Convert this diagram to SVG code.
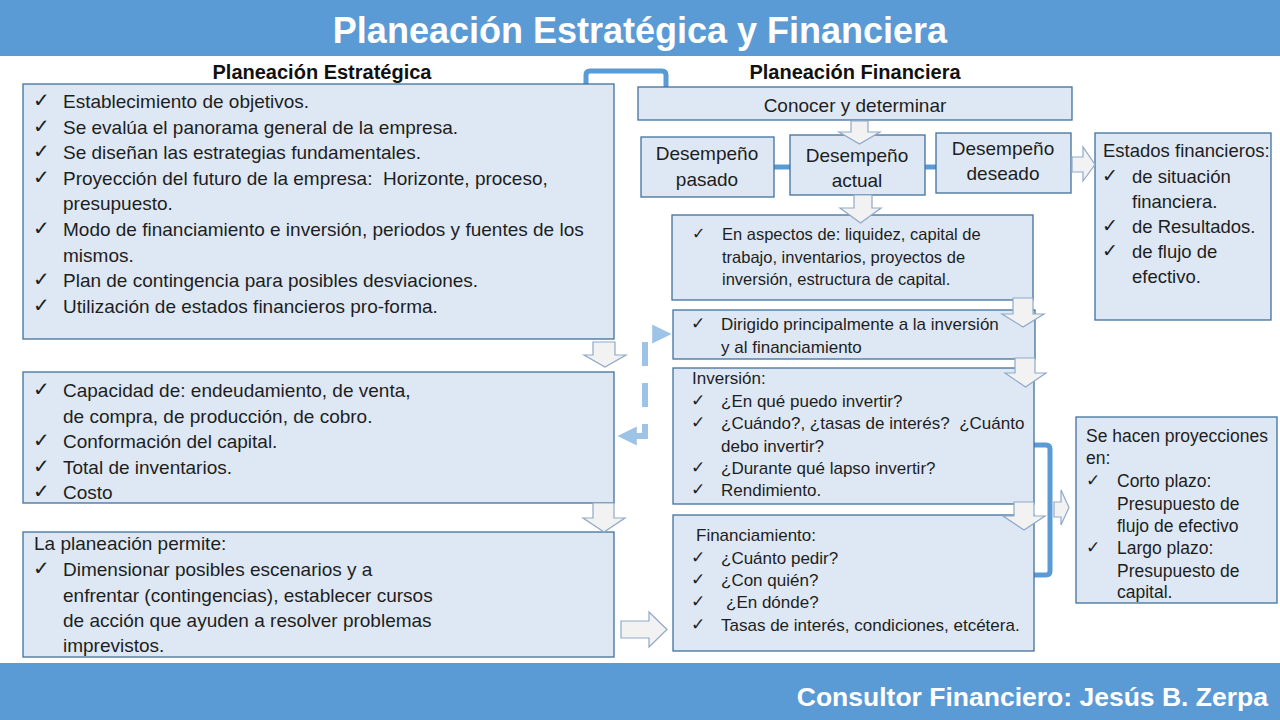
<svg xmlns="http://www.w3.org/2000/svg" width="1280" height="720" viewBox="0 0 1280 720">
<style>
.bar{fill:#5B9BD5}
.box{fill:#DDE8F4;stroke:#41719C;stroke-width:1.3}
.t{font-family:"Liberation Sans",Arial,sans-serif;fill:#1E1E1E}
.l{font-size:19px}
.r{font-size:17px}
.ck{font-family:"DejaVu Sans",sans-serif;fill:#1E1E1E}
.h{font-family:"Liberation Sans",Arial,sans-serif;font-weight:bold;font-size:20px;fill:#111}
.ttl{font-family:"Liberation Sans",Arial,sans-serif;font-weight:bold;fill:#fff}
.ba{fill:#F2F2F2;stroke:#8FA9C9;stroke-width:1.2}
.bl{fill:none;stroke:#5B9BD5;stroke-width:5;stroke-linejoin:round}
.dash{fill:none;stroke:#9DC3E6;stroke-width:6;stroke-dasharray:24 17}
.c{text-anchor:middle}
</style>
<defs>
<marker id="dh" viewBox="0 0 10 10" refX="2" refY="5" markerWidth="3.2" markerHeight="3.2" orient="auto-start-reverse" markerUnits="strokeWidth">
<path d="M0 0 L10 5 L0 10 Z" fill="#9DC3E6"/>
</marker>
</defs>

<g id="header">
<rect class="bar" x="0" y="0" width="1280" height="56"/>
<text class="ttl c" x="640" y="43" font-size="36">Planeación Estratégica y Financiera</text>
</g>
<g id="footer">
<rect class="bar" x="0" y="663" width="1280" height="57"/>
<text class="ttl" x="1268" y="706" font-size="26.5" text-anchor="end">Consultor Financiero: Jesús B. Zerpa</text>
</g>

<text class="h c" x="322" y="79">Planeación Estratégica</text>
<text class="h c" x="855" y="79">Planeación Financiera</text>

<g id="connectors">
<path class="bl" d="M586 85 V75 Q586 71 590 71 H662 Q666 71 666 75 V88"/>
<path class="bl" d="M774 167 H790" stroke-width="4"/>
<path class="bl" d="M925 167 H936" stroke-width="4"/>
<path class="bl" d="M1034 445 H1046 Q1050 445 1050 449 V571 Q1050 575 1046 575 H1034"/>
<path class="dash" d="M633 436 H645 V334 H656" marker-start="url(#dh)" marker-end="url(#dh)"/>
</g>

<g id="estrategica">
<rect class="box" x="23" y="84" width="591" height="255"/>
<g class="ck" font-size="20">
<text x="33" y="107">✓</text><text x="33" y="133">✓</text><text x="33" y="158">✓</text><text x="33" y="184">✓</text><text x="33" y="235">✓</text><text x="33" y="286">✓</text><text x="33" y="312">✓</text>
</g>
<g class="t l">
<text x="63" y="108">Establecimiento de objetivos.</text>
<text x="63" y="134">Se evalúa el panorama general de la empresa.</text>
<text x="63" y="159">Se diseñan las estrategias fundamentales.</text>
<text x="63" y="185" xml:space="preserve">Proyección del futuro de la empresa:  Horizonte, proceso,</text>
<text x="63" y="210">presupuesto.</text>
<text x="63" y="236">Modo de financiamiento e inversión, periodos y fuentes de los</text>
<text x="63" y="262">mismos.</text>
<text x="63" y="287">Plan de contingencia para posibles desviaciones.</text>
<text x="63" y="313">Utilización de estados financieros pro-forma.</text>
</g>
</g>

<g id="capacidad">
<rect class="box" x="23" y="372" width="591" height="131"/>
<g class="ck" font-size="20">
<text x="33" y="396">✓</text><text x="33" y="447">✓</text><text x="33" y="473">✓</text><text x="33" y="498">✓</text>
</g>
<g class="t l">
<text x="63" y="397">Capacidad de: endeudamiento, de venta,</text>
<text x="63" y="423">de compra, de producción, de cobro.</text>
<text x="63" y="448">Conformación del capital.</text>
<text x="63" y="474">Total de inventarios.</text>
<text x="63" y="499">Costo</text>
</g>
</g>

<g id="permite">
<rect class="box" x="23" y="532" width="591" height="125"/>
<text class="ck" x="33" y="575" font-size="20">✓</text>
<g class="t l">
<text x="34" y="550">La planeación permite:</text>
<text x="63" y="576">Dimensionar posibles escenarios y a</text>
<text x="63" y="602">enfrentar (contingencias), establecer cursos</text>
<text x="63" y="627">de acción que ayuden a resolver problemas</text>
<text x="63" y="652">imprevistos.</text>
</g>
</g>

<g id="conocer">
<rect class="box" x="638" y="87" width="434" height="33"/>
<text class="t l c" x="855" y="112">Conocer y determinar</text>
</g>
<g id="pasado">
<rect class="box" x="641" y="137" width="133" height="60"/>
<text class="t l c" x="707" y="160">Desempeño</text>
<text class="t l c" x="707" y="186">pasado</text>
</g>
<g id="actual">
<rect class="box" x="790" y="135" width="135" height="60"/>
<text class="t l c" x="857" y="162">Desempeño</text>
<text class="t l c" x="857" y="187">actual</text>
</g>
<g id="deseado">
<rect class="box" x="936" y="133" width="135" height="60"/>
<text class="t l c" x="1003" y="155">Desempeño</text>
<text class="t l c" x="1003" y="180">deseado</text>
</g>

<g id="estados">
<rect class="box" x="1095" y="133" width="176" height="187"/>
<g class="ck" font-size="19">
<text x="1102" y="182">✓</text><text x="1102" y="232">✓</text><text x="1102" y="257">✓</text>
</g>
<g class="t" font-size="18.5">
<text x="1103" y="157">Estados financieros:</text>
<text x="1132" y="183">de situación</text>
<text x="1132" y="208">financiera.</text>
<text x="1132" y="233">de Resultados.</text>
<text x="1132" y="258">de flujo de</text>
<text x="1132" y="283">efectivo.</text>
</g>
</g>

<g id="aspectos">
<rect class="box" x="672" y="215" width="361" height="85"/>
<text class="ck" x="692" y="239" font-size="16">✓</text>
<g class="t" font-size="16.5">
<text x="722" y="240">En aspectos de: liquidez, capital de</text>
<text x="722" y="263">trabajo, inventarios, proyectos de</text>
<text x="722" y="285">inversión, estructura de capital.</text>
</g>
</g>

<g id="dirigido">
<rect class="box" x="673" y="310" width="362" height="49"/>
<text class="ck" x="691" y="329" font-size="17">✓</text>
<g class="t r">
<text x="721" y="330">Dirigido principalmente a la inversión</text>
<text x="721" y="353">y al financiamiento</text>
</g>
</g>

<g id="inversion">
<rect class="box" x="673" y="368" width="361" height="136"/>
<g class="ck" font-size="17">
<text x="691" y="406">✓</text><text x="691" y="428">✓</text><text x="691" y="473">✓</text><text x="691" y="495">✓</text>
</g>
<g class="t r">
<text x="692" y="384">Inversión:</text>
<text x="721" y="407">¿En qué puedo invertir?</text>
<text x="721" y="429" xml:space="preserve">¿Cuándo?, ¿tasas de interés?  ¿Cuánto</text>
<text x="721" y="452">debo invertir?</text>
<text x="721" y="474">¿Durante qué lapso invertir?</text>
<text x="721" y="496">Rendimiento.</text>
</g>
</g>

<g id="financiamiento">
<rect class="box" x="673" y="515" width="361" height="136"/>
<g class="ck" font-size="17">
<text x="691" y="563">✓</text><text x="691" y="585">✓</text><text x="691" y="607">✓</text><text x="691" y="630">✓</text>
</g>
<g class="t r">
<text x="696" y="541">Financiamiento:</text>
<text x="721" y="564">¿Cuánto pedir?</text>
<text x="721" y="586">¿Con quién?</text>
<text x="726" y="608">¿En dónde?</text>
<text x="721" y="631">Tasas de interés, condiciones, etcétera.</text>
</g>
</g>

<g id="proyecciones">
<rect class="box" x="1076" y="417" width="201" height="186"/>
<g class="ck" font-size="17">
<text x="1086" y="486">✓</text><text x="1086" y="553">✓</text>
</g>
<g class="t" font-size="17.5">
<text x="1086" y="442">Se hacen proyecciones</text>
<text x="1086" y="464">en:</text>
<text x="1117" y="487">Corto plazo:</text>
<text x="1117" y="510">Presupuesto de</text>
<text x="1117" y="532">flujo de efectivo</text>
<text x="1117" y="554">Largo plazo:</text>
<text x="1117" y="577">Presupuesto de</text>
<text x="1117" y="598">capital.</text>
</g>
</g>

<g id="block-arrows">
<path class="ba" d="M851 121 H868 V132 H880 L859.5 144 L839 132 H851 Z"/>
<path class="ba" d="M854 195 H872 V208 H881 L860.5 223 L840 208 H854 Z"/>
<path class="ba" d="M1013 298 H1033 V314 H1044 L1023 327 L1002 314 H1013 Z"/>
<path class="ba" d="M1015 358 H1035 V373 H1046 L1025.5 387 L1005 373 H1015 Z"/>
<path class="ba" d="M1014 502 H1034 V516 H1045 L1024 530 L1003 516 H1014 Z"/>
<path class="ba" d="M593 342 H615 V355 H626 L605 367 L584 355 H593 Z"/>
<path class="ba" d="M593 503 H614 V518 H625 L604 532 L583 518 H593 Z"/>
<path class="ba" d="M1072 157 V172 H1083 V181 L1095 164.5 L1083 147 V157 Z"/>
<path class="ba" d="M1054 502 V517 H1061 V525 L1069 507.5 L1061 490 V502 Z"/>
<path class="ba" d="M621 621 V638 H649 V647 L667 629.5 L649 612 V621 Z"/>
</g>
</svg>
